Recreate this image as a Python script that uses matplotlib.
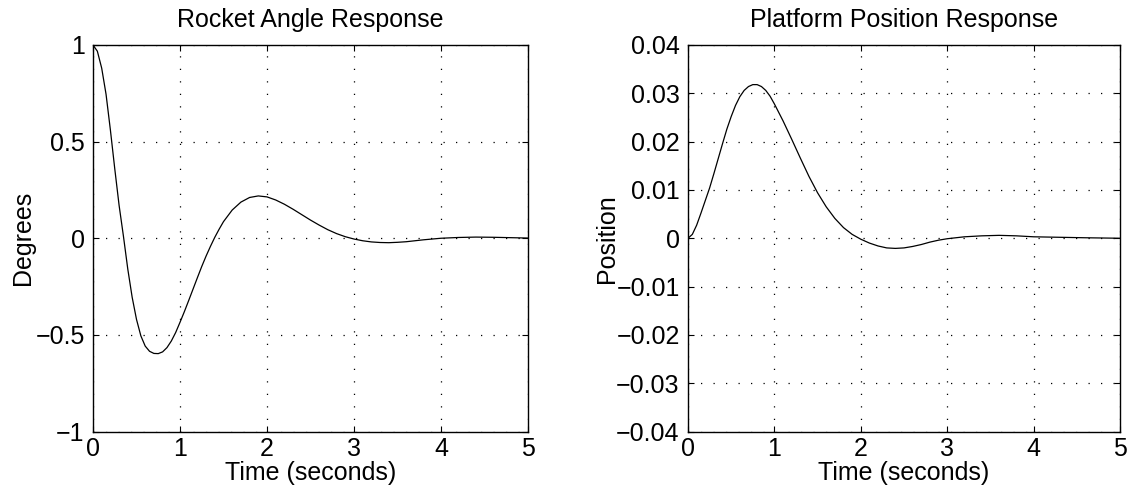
import matplotlib
matplotlib.use("Agg")
import matplotlib.pyplot as plt

# ---- data ----
t_angle = [0.0, 0.05, 0.1, 0.15, 0.2, 0.25, 0.3, 0.35, 0.4, 0.45, 0.5, 0.55, 0.6, 0.65,
           0.7, 0.75, 0.8, 0.85, 0.9, 0.95, 1.0, 1.05, 1.1, 1.15, 1.2, 1.25, 1.3, 1.35,
           1.4, 1.45, 1.5, 1.6, 1.7, 1.8, 1.9, 2.0, 2.1, 2.2, 2.3, 2.4, 2.5, 2.6, 2.7,
           2.8, 2.9, 3.0, 3.1, 3.2, 3.3, 3.4, 3.5, 3.6, 3.7, 3.8, 3.9, 4.0, 4.2, 4.4,
           4.6, 4.8, 5.0]
angle = [1.0, 0.968, 0.88, 0.745, 0.56, 0.36, 0.17, 0.01, -0.16, -0.305, -0.42, -0.505,
         -0.558, -0.585, -0.596, -0.597, -0.588, -0.566, -0.532, -0.488, -0.435, -0.38,
         -0.322, -0.263, -0.204, -0.146, -0.092, -0.042, 0.005, 0.047, 0.086, 0.146,
         0.187, 0.211, 0.219, 0.214, 0.198, 0.176, 0.15, 0.122, 0.094, 0.068, 0.044,
         0.024, 0.008, -0.004, -0.013, -0.019, -0.022, -0.023, -0.021, -0.018, -0.013,
         -0.008, -0.004, 0.0, 0.004, 0.006, 0.005, 0.003, 0.001]

t_pos = [0.0, 0.05, 0.1, 0.15, 0.2, 0.25, 0.3, 0.35, 0.4, 0.45, 0.5, 0.55, 0.6, 0.65,
         0.7, 0.75, 0.8, 0.85, 0.9, 0.95, 1.0, 1.1, 1.2, 1.3, 1.4, 1.5, 1.6, 1.7, 1.8,
         1.9, 2.0, 2.1, 2.2, 2.3, 2.4, 2.5, 2.6, 2.7, 2.8, 2.9, 3.0, 3.2, 3.4, 3.6,
         3.8, 4.0, 4.3, 4.6, 5.0]
position = [0.0, 0.0008, 0.0027, 0.0052, 0.0078, 0.0104, 0.0134, 0.0165, 0.0196,
            0.0226, 0.0252, 0.0275, 0.0293, 0.0306, 0.0314, 0.0318, 0.0318, 0.0314,
            0.0306, 0.0294, 0.0278, 0.0243, 0.0205, 0.0166, 0.0128, 0.0094, 0.0065,
            0.0041, 0.0022, 0.0008, -0.0002, -0.0010, -0.0016, -0.0020, -0.0021,
            -0.0020, -0.0017, -0.0013, -0.0008, -0.0004, -0.0001, 0.0003, 0.0005,
            0.0006, 0.0005, 0.0003, 0.0002, 0.0001, 0.0]

x_ticks = [0, 1, 2, 3, 4, 5]
x_labels = ["0", "1", "2", "3", "4", "5"]
angle_ticks = [-1, -0.5, 0, 0.5, 1]
angle_labels = ["\u22121", "\u22120.5", "0", "0.5", "1"]
pos_ticks = [-0.04, -0.03, -0.02, -0.01, 0, 0.01, 0.02, 0.03, 0.04]
pos_labels = ["\u22120.04", "\u22120.03", "\u22120.02", "\u22120.01", "0",
              "0.01", "0.02", "0.03", "0.04"]

titles = ["Rocket Angle Response", "Platform Position Response"]
ylabels = ["Degrees", "Position"]
xlabel = "Time (seconds)"

plt.rcParams["font.family"] = ["Liberation Sans", "DejaVu Sans"]
plt.rcParams["font.size"] = 18

fig = plt.figure(figsize=(11.34, 4.88), dpi=100)
ax1 = fig.add_axes([93 / 1134, (488 - 431.5) / 488, 435 / 1134, 386.5 / 488])
ax2 = fig.add_axes([688 / 1134, (488 - 431.5) / 488, 432 / 1134, 386.5 / 488])


def style(ax, yt, yl, ylim, title, ylab, labelpad):
    ax.set_xlim(0, 5)
    ax.set_ylim(*ylim)
    ax.set_xticks(x_ticks)
    ax.set_xticklabels(x_labels)
    ax.set_yticks(yt)
    ax.set_yticklabels(yl)
    ax.tick_params(direction="in", length=4, width=0.8, top=True, right=True,
                   labelsize=18, colors="black")
    ax.tick_params(axis="y", pad=6)
    ax.tick_params(axis="x", pad=4)
    ax.grid(True, color="black", linestyle=(0, (1, 9)), linewidth=0.9)
    for s in ax.spines.values():
        s.set_linewidth(1.0)
        s.set_color("black")
    ax.set_title(title, fontsize=18, pad=13)
    ax.set_xlabel(xlabel, fontsize=18, labelpad=0)
    ax.set_ylabel(ylab, fontsize=18, labelpad=labelpad)


ax1.plot(t_angle, angle, color="black", linewidth=0.9)
style(ax1, angle_ticks, angle_labels, (-1, 1), titles[0], ylabels[0], 0)

ax2.plot(t_pos, position, color="black", linewidth=0.9)
style(ax2, pos_ticks, pos_labels, (-0.04, 0.04), titles[1], ylabels[1], -2)

fig.savefig("out.png", dpi=100)
